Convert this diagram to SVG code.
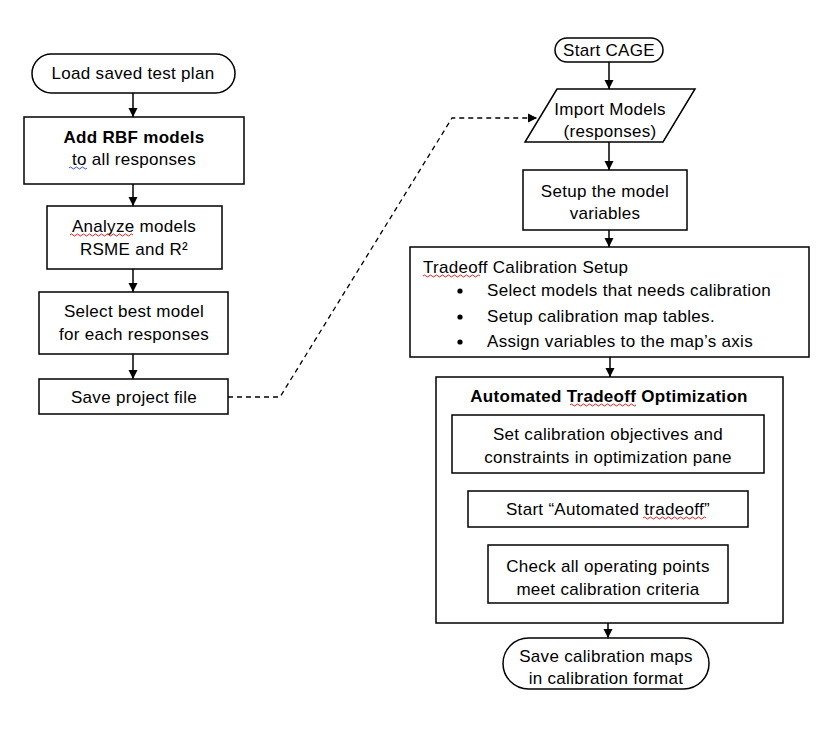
<svg xmlns="http://www.w3.org/2000/svg" width="838" height="732" viewBox="0 0 838 732">
<style>
.b{fill:#fff;stroke:#000;stroke-width:1.5}
.t{font-family:"Liberation Sans",Arial,sans-serif;font-size:17px;letter-spacing:0.3px;fill:#000}
.m{text-anchor:middle}
.bd{font-weight:bold}
.c{stroke:#000;stroke-width:1.5;fill:none}
.d{stroke:#000;stroke-width:1.3;fill:none;stroke-dasharray:5 4}
.sq{fill:none;stroke-width:1}
</style>
<defs>
<marker id="ah" markerWidth="10" markerHeight="10" refX="9" refY="5" orient="auto" markerUnits="userSpaceOnUse">
<path d="M0,0.5 L9,5 L0,9.5 Z" fill="#000"/>
</marker>
</defs>
<rect width="838" height="732" fill="#fff"/>

<g id="connectors">
<line class="c" x1="133" y1="93" x2="133" y2="117" marker-end="url(#ah)"/>
<line class="c" x1="133" y1="184" x2="133" y2="206" marker-end="url(#ah)"/>
<line class="c" x1="133" y1="269" x2="133" y2="292" marker-end="url(#ah)"/>
<line class="c" x1="133" y1="354" x2="133" y2="379" marker-end="url(#ah)"/>
<path class="d" d="M228,397 L280,397 L452,118 L537,118" marker-end="url(#ah)"/>
<line class="c" x1="609" y1="62" x2="609" y2="89" marker-end="url(#ah)"/>
<line class="c" x1="609" y1="142" x2="609" y2="170" marker-end="url(#ah)"/>
<line class="c" x1="609" y1="230" x2="609" y2="247" marker-end="url(#ah)"/>
<line class="c" x1="610" y1="357" x2="610" y2="377" marker-end="url(#ah)"/>
<line class="c" x1="608" y1="473" x2="608" y2="491" marker-end="url(#ah)"/>
<line class="c" x1="608" y1="603" x2="608" y2="638" marker-end="url(#ah)"/>
</g>

<g id="load-test-plan">
<rect class="b" x="32" y="54" width="203" height="39" rx="19.5"/>
<text class="t m" x="133" y="79">Load saved test plan</text>
</g>

<g id="add-rbf">
<rect class="b" x="24" y="117" width="220" height="67"/>
<text class="t m bd" x="134" y="143">Add RBF models</text>
<text class="t m" x="134" y="165">to all responses</text>
<path class="sq" stroke="#3050e0" d="M69,168 q1.5,-2 3,0 t3,0 t3,0 t3,0 t3,0 t3,0"/>
</g>

<g id="analyze">
<rect class="b" x="47" y="206" width="175" height="63"/>
<text class="t m" x="134" y="232">Analyze models</text>
<text class="t m" x="134" y="255">RSME and R²</text>
<path class="sq" stroke="#e02020" d="M70,235 q1.5,-2 3,0 t3,0 t3,0 t3,0 t3,0 t3,0 t3,0 t3,0 t3,0 t3,0 t3,0 t3,0 t3,0 t3,0 t3,0 t3,0 t3,0 t3,0 t3,0 t3,0 t3,0"/>
</g>

<g id="select-best">
<rect class="b" x="39" y="292" width="189" height="62"/>
<text class="t m" x="134" y="317">Select best model</text>
<text class="t m" x="134" y="340">for each responses</text>
</g>

<g id="save-project">
<rect class="b" x="39" y="379" width="189" height="35"/>
<text class="t m" x="134" y="403">Save project file</text>
</g>

<g id="start-cage">
<rect class="b" x="555" y="38" width="108" height="24" rx="12"/>
<text class="t m" x="609" y="56">Start CAGE</text>
</g>

<g id="import-models">
<polygon class="b" points="557,89 695,89 663,142 525,142"/>
<text class="t m" x="610" y="115">Import Models</text>
<text class="t m" x="610" y="137">(responses)</text>
</g>

<g id="setup-vars">
<rect class="b" x="523" y="170" width="164" height="60"/>
<text class="t m" x="605" y="197">Setup the model</text>
<text class="t m" x="605" y="219">variables</text>
</g>

<g id="tradeoff-setup">
<rect class="b" x="410" y="247" width="399" height="110"/>
<text class="t" x="423" y="273">Tradeoff Calibration Setup</text>
<path class="sq" stroke="#e02020" d="M423,276 q1.5,-2 3,0 t3,0 t3,0 t3,0 t3,0 t3,0 t3,0 t3,0 t3,0 t3,0 t3,0 t3,0 t3,0 t3,0 t3,0 t3,0 t3,0 t3,0 t3,0"/>
<circle cx="460" cy="291" r="2.6" fill="#000"/>
<circle cx="460" cy="317" r="2.6" fill="#000"/>
<circle cx="460" cy="342" r="2.6" fill="#000"/>
<text class="t" x="487" y="296">Select models that needs calibration</text>
<text class="t" x="487" y="322">Setup calibration map tables.</text>
<text class="t" x="487" y="347">Assign variables to the map’s axis</text>
</g>

<g id="automated-optimization">
<rect class="b" x="436" y="377" width="347" height="246"/>
<text class="t m bd" x="609" y="402">Automated Tradeoff Optimization</text>
<path class="sq" stroke="#e02020" d="M570,405 q1.5,-2 3,0 t3,0 t3,0 t3,0 t3,0 t3,0 t3,0 t3,0 t3,0 t3,0 t3,0 t3,0 t3,0 t3,0 t3,0 t3,0 t3,0 t3,0 t3,0 t3,0 t3,0 t3,0"/>
</g>

<g id="set-objectives">
<rect class="b" x="452" y="415" width="312" height="58"/>
<text class="t m" x="608" y="440">Set calibration objectives and</text>
<text class="t m" x="608" y="463">constraints in optimization  pane</text>
</g>

<g id="start-tradeoff">
<rect class="b" x="468" y="491" width="280" height="36"/>
<text class="t m" x="608" y="515">Start “Automated tradeoff”</text>
<path class="sq" stroke="#e02020" d="M643,518 q1.5,-2 3,0 t3,0 t3,0 t3,0 t3,0 t3,0 t3,0 t3,0 t3,0 t3,0 t3,0 t3,0 t3,0 t3,0 t3,0 t3,0 t3,0 t3,0 t3,0 t3,0 t3,0"/>
</g>

<g id="check-points">
<rect class="b" x="488" y="545" width="240" height="58"/>
<text class="t m" x="608" y="572">Check all operating points</text>
<text class="t m" x="608" y="595">meet calibration criteria</text>
</g>

<g id="save-maps">
<rect class="b" x="503" y="638" width="206" height="51" rx="25.5"/>
<text class="t m" x="606" y="662">Save calibration maps</text>
<text class="t m" x="606" y="684">in calibration format</text>
</g>
</svg>
